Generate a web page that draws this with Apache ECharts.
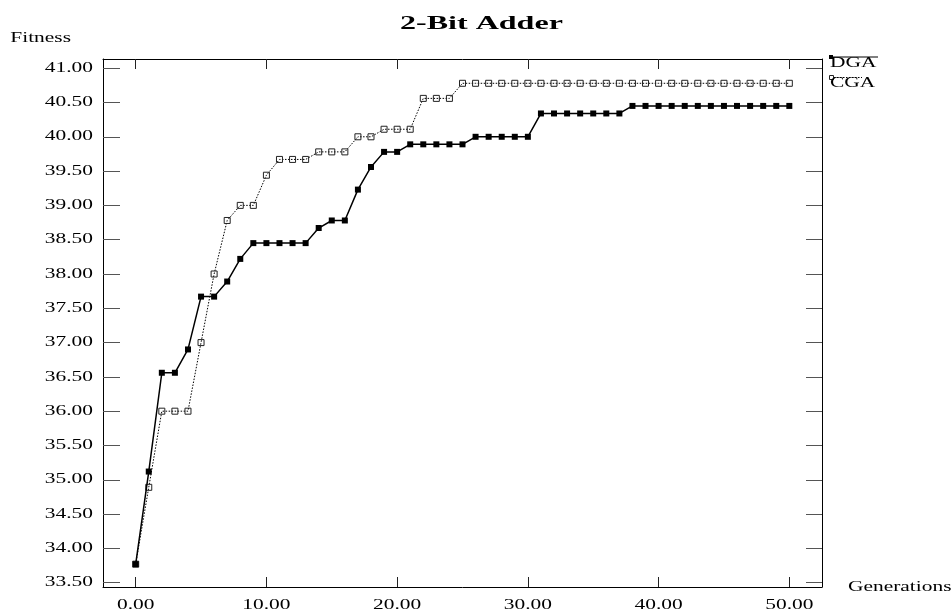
<!DOCTYPE html>
<html>
<head>
<meta charset="utf-8">
<script src="https://cdn.jsdelivr.net/npm/echarts@6/dist/echarts.min.js"></script>
<style>
html,body{margin:0;padding:0;background:#fff;}
#chart{width:951px;height:612px;}
</style>
</head>
<body>
<div id="chart"></div>
<script>
// ---- data ----
var generations = [0,1,2,3,4,5,6,7,8,9,10,11,12,13,14,15,16,17,18,19,20,21,22,23,24,25,26,27,28,29,30,31,32,33,34,35,36,37,38,39,40,41,42,43,44,45,46,47,48,49,50];
var dgaValues = [33.77,35.12,36.56,36.56,36.90,37.67,37.67,37.89,38.22,38.45,
                 38.45,38.45,38.45,38.45,38.67,38.78,38.78,39.23,39.56,39.78,
                 39.78,39.89,39.89,39.89,39.89,39.89,40.00,40.00,40.00,40.00,
                 40.00,40.34,40.34,40.34,40.34,40.34,40.34,40.34,40.45,40.45,
                 40.45,40.45,40.45,40.45,40.45,40.45,40.45,40.45,40.45,40.45,40.45];
var cgaValues = [33.77,34.89,36.00,36.00,36.00,37.00,38.00,38.78,39.00,39.00,
                 39.44,39.67,39.67,39.67,39.78,39.78,39.78,40.00,40.00,40.11,
                 40.11,40.11,40.56,40.56,40.56,40.78,40.78,40.78,40.78,40.78,
                 40.78,40.78,40.78,40.78,40.78,40.78,40.78,40.78,40.78,40.78,
                 40.78,40.78,40.78,40.78,40.78,40.78,40.78,40.78,40.78,40.78,40.78];
var xTicks = [0,10,20,30,40,50];
var yTicks = [33.5,34,34.5,35,35.5,36,36.5,37,37.5,38,38.5,39,39.5,40,40.5,41];
var seriesNames = ['DGA','CGA'];

// ---- horizontally stretched serif text, like the reference ----
(function(){
  var P = CanvasRenderingContext2D.prototype;
  var ft = P.fillText, mt = P.measureText;
  function f(ctx){ return /bold|700/.test(ctx.font) ? 1.78 : 1.53; }
  P.fillText = function(t, x, y){
    var k = f(this);
    this.save(); this.scale(k, 1); ft.call(this, t, x / k, y); this.restore();
  };
  P.measureText = function(t){
    var m = mt.call(this, t), k = f(this);
    return {
      width: m.width * k,
      actualBoundingBoxLeft: m.actualBoundingBoxLeft * k,
      actualBoundingBoxRight: m.actualBoundingBoxRight * k,
      actualBoundingBoxAscent: m.actualBoundingBoxAscent,
      actualBoundingBoxDescent: m.actualBoundingBoxDescent,
      fontBoundingBoxAscent: m.fontBoundingBoxAscent,
      fontBoundingBoxDescent: m.fontBoundingBoxDescent
    };
  };
})();

var FONT = 'Liberation Serif';
function pairs(xs, ys){ return xs.map(function(x, i){ return [x, ys[i]]; }); }

var chart = echarts.init(document.getElementById('chart'), null, {renderer: 'canvas'});
chart.setOption({
  animation: false,
  backgroundColor: '#fff',
  textStyle: {fontFamily: FONT, color: '#000'},
  title: {
    text: '2-Bit Adder', left: 400, top: 8, padding: 0,
    textStyle: {fontFamily: FONT, fontSize: 18, fontWeight: 'bold', color: '#000'}
  },
  grid: {left: 103, right: 129, top: 59, bottom: 25, outerBoundsMode: 'none', containLabel: false},
  xAxis: [{
    type: 'value', position: 'bottom', min: -2.5, max: 52.5,
    name: 'Generations', nameLocation: 'end', nameGap: 26,
    nameTextStyle: {fontFamily: FONT, fontSize: 14, color: '#000', align: 'left', verticalAlign: 'middle'},
    axisLine: {show: true, onZero: false, lineStyle: {color: '#000', width: 1}},
    axisTick: {show: true, inside: true, length: 10, customValues: xTicks, lineStyle: {color: '#222'}},
    axisLabel: {show: true, margin: 8, customValues: xTicks, fontFamily: FONT, fontSize: 14, color: '#000',
      formatter: function(v){ return v.toFixed(2); }},
    splitLine: {show: false}
  }, {
    type: 'value', position: 'top', min: -2.5, max: 52.5,
    axisLine: {show: true, onZero: false, lineStyle: {color: '#000', width: 1}},
    axisTick: {show: true, inside: true, length: 10, customValues: xTicks, lineStyle: {color: '#222'}},
    axisLabel: {show: false},
    splitLine: {show: false}
  }],
  yAxis: [{
    type: 'value', position: 'left', min: 33.437, max: 41.134,
    name: 'Fitness', nameLocation: 'end', nameGap: 21,
    nameTextStyle: {fontFamily: FONT, fontSize: 14, color: '#000', align: 'right', verticalAlign: 'middle', padding: [0, 32, 0, 0]},
    axisLine: {show: true, onZero: false, lineStyle: {color: '#000', width: 1}},
    axisTick: {show: true, inside: true, length: 17, customValues: yTicks, lineStyle: {color: '#555'}},
    axisLabel: {show: true, margin: 10, customValues: yTicks, fontFamily: FONT, fontSize: 14, color: '#000',
      formatter: function(v){ return v.toFixed(2); }},
    splitLine: {show: false}
  }, {
    type: 'value', position: 'right', min: 33.437, max: 41.134,
    axisLine: {show: true, onZero: false, lineStyle: {color: '#000', width: 1}},
    axisTick: {show: true, inside: true, length: 16, customValues: yTicks, lineStyle: {color: '#555'}},
    axisLabel: {show: false},
    splitLine: {show: false}
  }],
  series: [{
    name: seriesNames[0], type: 'line', xAxisIndex: 0, yAxisIndex: 0,
    data: pairs(generations, dgaValues),
    symbol: 'rect', symbolSize: 6, showSymbol: true,
    lineStyle: {color: '#000', width: 1.5, type: 'solid'},
    itemStyle: {color: '#000', borderWidth: 0},
    z: 3
  }, {
    name: seriesNames[1], type: 'line', xAxisIndex: 0, yAxisIndex: 0,
    data: pairs(generations, cgaValues),
    symbol: 'rect', symbolSize: 6, showSymbol: true,
    lineStyle: {color: '#000', width: 1, type: [1.5, 1.5]},
    itemStyle: {color: 'rgba(255,255,255,0)', borderColor: '#222', borderWidth: 1},
    z: 2
  }],
  graphic: [
    {type: 'line', shape: {x1: 829, y1: 57, x2: 878, y2: 57}, style: {stroke: '#000', lineWidth: 1}},
    {type: 'rect', shape: {x: 829, y: 55, width: 4, height: 4}, style: {fill: '#000'}},
    {type: 'text', x: 830, y: 63, style: {text: seriesNames[0], font: '14px "Liberation Serif"', fill: '#000', textAlign: 'left', textVerticalAlign: 'middle'}},
    {type: 'line', shape: {x1: 834, y1: 77.5, x2: 862, y2: 77.5}, style: {stroke: '#000', lineWidth: 1, lineDash: [1.5, 1.5]}},
    {type: 'rect', shape: {x: 829.5, y: 75.5, width: 4, height: 4}, style: {fill: '#fff', stroke: '#222', lineWidth: 1}},
    {type: 'text', x: 830, y: 83, style: {text: seriesNames[1], font: '14px "Liberation Serif"', fill: '#000', textAlign: 'left', textVerticalAlign: 'middle'}}
  ]
});
</script>
</body>
</html>
